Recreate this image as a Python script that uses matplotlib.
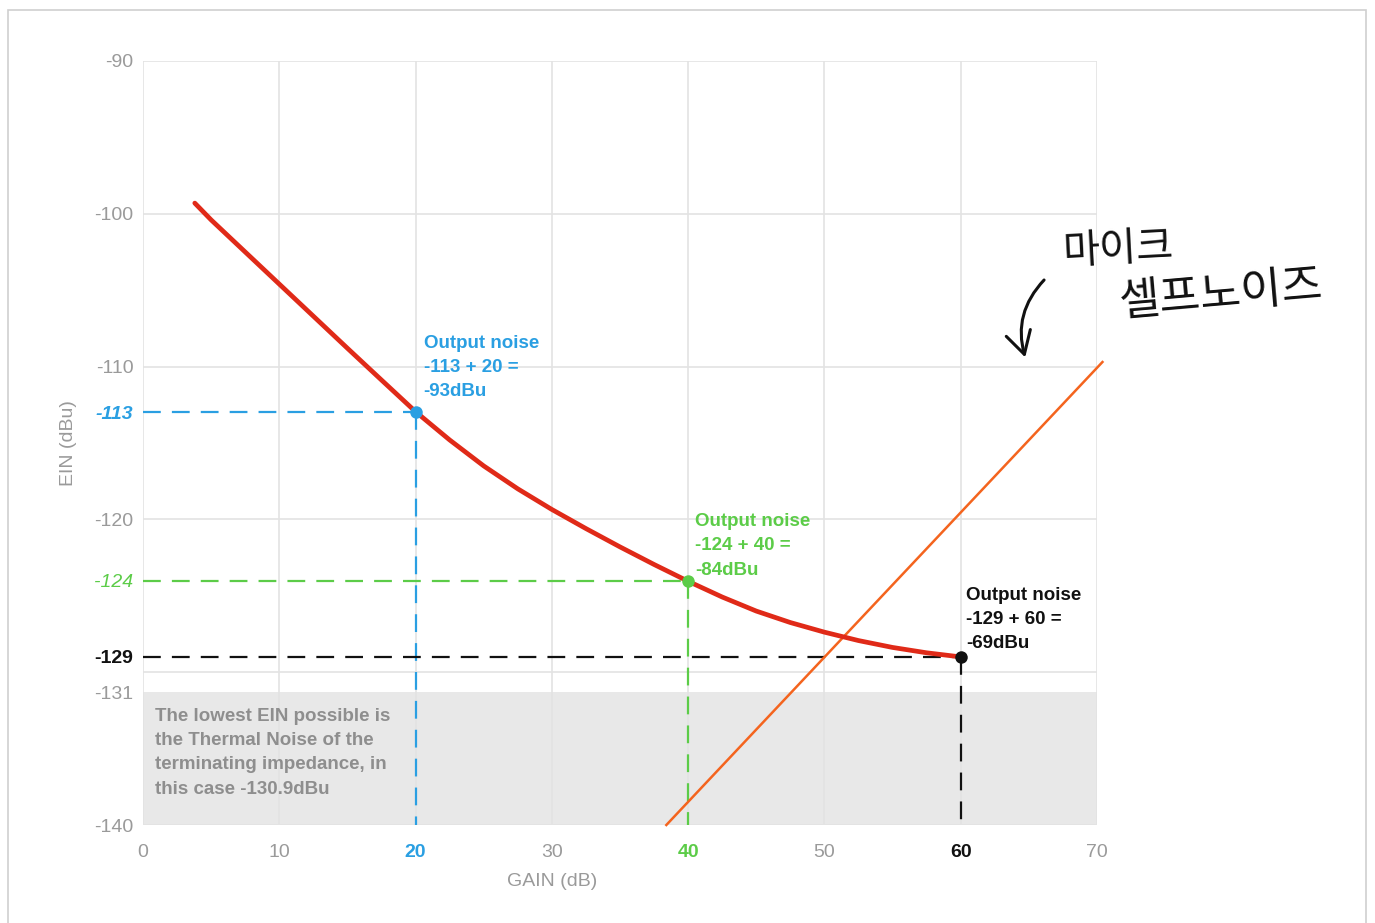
import matplotlib
matplotlib.use("Agg")
import matplotlib.pyplot as plt
from matplotlib.patches import Rectangle

plt.rcParams['font.family'] = ['Liberation Sans', 'DejaVu Sans']

# ---- data ----
gain_curve = [3.8, 5, 7.5, 10, 12.5, 15, 17.5, 20, 22.5, 25, 27.5, 30, 32.5,
              35, 37.5, 40, 42.5, 45, 47.5, 50, 52.5, 55, 57.5, 60]
ein_curve = [-99.3, -100.4, -102.5, -104.6, -106.7, -108.8, -110.88, -112.95,
             -114.8, -116.5, -118.0, -119.35, -120.6, -121.8, -122.95, -124.05,
             -125.08, -126.0, -126.75, -127.38, -127.93, -128.38, -128.73, -129.0]

mic_x = [38.4, 70.4]
mic_y = [-140.0, -109.7]

point_gain = [20, 40, 60]
point_ein = [-113, -124, -129]
point_colors = ['#2a9fe2', '#5ccc48', '#111111']
point_texts = ["Output noise\n-113 + 20 =\n-93dBu",
               "Output noise\n-124 + 40 =\n-84dBu",
               "Output noise\n-129 + 60 =\n-69dBu"]
text_pos = [(20.6, -107.9), (40.5, -119.6), (60.4, -124.4)]

band_top = -131.3
band_bottom = -140
band_text = ("The lowest EIN possible is\nthe Thermal Noise of the\n"
             "terminating impedance, in\nthis case -130.9dBu")

grid_x = [0, 10, 20, 30, 40, 50, 60, 70]
grid_y = [-90, -100, -110, -120, -130, -140]

xticks = [0, 10, 20, 30, 40, 50, 60, 70]
xtick_labels = ['0', '10', '20', '30', '40', '50', '60', '70']
yticks = [-90, -100, -110, -113, -120, -124, -129, band_top, -140]
ytick_labels = ['-90', '-100', '-110', '-113', '-120', '-124', '-129', '-131', '-140']

gray = '#9a9a9a'

# ---- figure ----
fig = plt.figure(figsize=(13.75, 9.23), dpi=100)
ax = fig.add_axes([143/1375, 1-825/923, (1097-143)/1375, (825-61)/923])
ax.set_xlim(0, 70)
ax.set_ylim(-140, -90)
for s in ax.spines.values():
    s.set_visible(False)

# band
ax.axhspan(band_bottom, band_top, color='#e8e8e8', zorder=0, lw=0)

# grid
for gx in grid_x:
    ax.axvline(gx, color='#e3e3e3', lw=1.2, zorder=1)
for gy in grid_y:
    ax.axhline(gy, color='#e3e3e3', lw=1.2, zorder=1)

# dashed guides
for gx, gy, c in zip(point_gain, point_ein, point_colors):
    ax.plot([0, gx], [gy, gy], color=c, lw=1.6, dashes=(8, 5), zorder=2)
    ax.plot([gx, gx], [gy, -140], color=c, lw=1.6, dashes=(8, 5), zorder=2)

# mic self-noise line
ax.plot(mic_x, mic_y, color='#f4641e', lw=1.8, zorder=3, clip_on=False)

# EIN curve
ax.plot(gain_curve, ein_curve, color='#e02a18', lw=3.4, zorder=4,
        solid_capstyle='round', solid_joinstyle='round')

# points
for gx, gy, c in zip(point_gain, point_ein, point_colors):
    ax.plot(gx, gy, 'o', color=c, ms=9, zorder=5, mec='none')

# annotations
for (tx, ty), t, c in zip(text_pos, point_texts, point_colors):
    ax.text(tx, ty, t, color=c, fontsize=13.5, fontweight='bold',
            va='top', ha='left', linespacing=1.55, zorder=6)

ax.text(0.85, band_top - 1.05, band_text, color='#8e8e8e', fontsize=13.5,
        fontweight='bold', va='top', ha='left', linespacing=1.55, zorder=6)

# ticks
ax.set_xticks(xticks)
ax.set_xticklabels(xtick_labels)
ax.set_yticks(yticks)
ax.set_yticklabels(ytick_labels)
ax.tick_params(axis='both', length=0, labelsize=14, colors=gray)
ax.tick_params(axis='y', pad=7)
ax.tick_params(axis='x', pad=14)

for lab in ax.get_xticklabels():
    t = lab.get_text()
    if t == '20':
        lab.set_color(point_colors[0]); lab.set_fontweight('bold')
    elif t == '40':
        lab.set_color(point_colors[1]); lab.set_fontweight('bold')
    elif t == '60':
        lab.set_color(point_colors[2]); lab.set_fontweight('bold')
for lab in ax.get_yticklabels():
    t = lab.get_text()
    if t == '-113':
        lab.set_color(point_colors[0]); lab.set_fontweight('bold'); lab.set_fontstyle('italic')
    elif t == '-124':
        lab.set_color(point_colors[1]); lab.set_fontstyle('italic')
    elif t == '-129':
        lab.set_color(point_colors[2]); lab.set_fontweight('bold')

ax.set_xlabel('GAIN (dB)', color=gray, fontsize=14)
ax.xaxis.set_label_coords(30/70, -0.063)
ax.set_ylabel('EIN (dBu)', color=gray, fontsize=14)
ax.yaxis.set_label_coords(-0.069, 0.5)

# handwritten annotation
fig.text(1118/1375, 1-250/923, '마이크', fontsize=29,
         family=['Noto Sans CJK KR', 'DejaVu Sans'], ha='center', va='center',
         color='#111111', rotation=3)
fig.text(1221/1375, 1-294/923, '셀프노이즈', fontsize=32,
         family=['Noto Sans CJK KR', 'DejaVu Sans'], ha='center', va='center',
         color='#111111', rotation=5)
ax.annotate('', xy=(1026/1375, 1-360/923), xytext=(1046/1375, 1-278/923),
            xycoords='figure fraction', textcoords='figure fraction',
            arrowprops=dict(arrowstyle='->,head_length=1.6,head_width=0.9',
                            connectionstyle='arc3,rad=0.3', color='#111111', lw=2.2))

# border
fig.patches.append(Rectangle((8/1375, -0.01), (1366-8)/1375, (923-10)/923 + 0.01,
                             transform=fig.transFigure, fill=False,
                             edgecolor='#cfcfcf', lw=1.2))

fig.savefig('out.png', dpi=100, facecolor='white')
